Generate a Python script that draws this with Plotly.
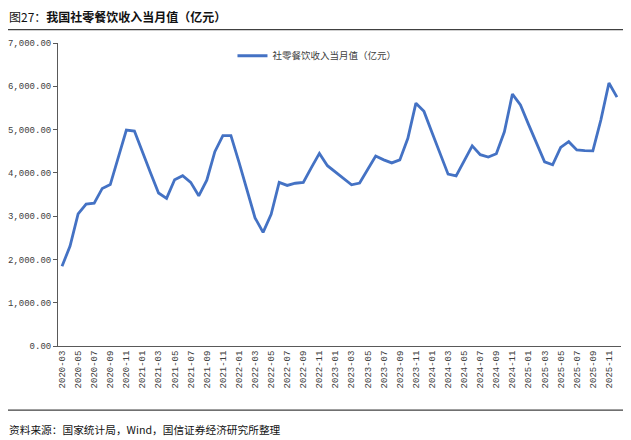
import plotly.graph_objects as go

months = [f"{y}-{m:02d}" for y in range(2020, 2026) for m in range(1, 13)]
months = months[2:]  # 2020-03 .. 2025-12

values = [
    1840, 2310, 3050, 3280, 3300, 3640, 3730, 4390, 4990, 4965,
    4470, 4000, 3535, 3410, 3840, 3935, 3780, 3470, 3830, 4490, 4860, 4860,
    4250, 3620, 2960, 2625, 3040, 3780, 3710, 3760, 3780, 4120, 4450, 4165,
    4020, 3870, 3725, 3765, 4070, 4390, 4300, 4230, 4300, 4800, 5610, 5420,
    4930, 4450, 3970, 3930, 4280, 4625, 4420, 4365, 4440, 4950, 5820, 5570,
    5120, 4690, 4255, 4185, 4590, 4720, 4530, 4515, 4510, 5225, 6075, 5750,
]

tick_labels = months[::2]
y_ticks = [0, 1000, 2000, 3000, 4000, 5000, 6000, 7000]
series_name = "社零餐饮收入当月值（亿元）"

fig = go.Figure()
fig.add_trace(go.Scatter(
    x=months, y=values, mode="lines", name=series_name,
    line=dict(color="#4472C4", width=2.8),
))

cjk = "Noto Sans CJK SC, sans-serif"
mono = "Liberation Mono, DejaVu Sans Mono, monospace"

fig.update_layout(
    width=623, height=432,
    margin=dict(l=50, r=10, t=35, b=94, autoexpand=False),
    paper_bgcolor="white", plot_bgcolor="white",
    font=dict(family=cjk, size=10, color="#404040"),
    showlegend=True,
    legend=dict(
        x=0.46, y=0.958, xanchor="center", yanchor="middle",
        orientation="h", bgcolor="rgba(0,0,0,0)",
        font=dict(size=9.5, color="#404040", family=cjk),
    ),
    xaxis=dict(
        type="category", automargin=False,
        categoryorder="array", categoryarray=months,
        range=[-0.5, len(months) - 0.5],
        tickmode="array", tickvals=tick_labels, ticktext=tick_labels,
        tickangle=-90, tickfont=dict(size=9, color="#404040", family=mono),
        showline=True, linecolor="#595959", linewidth=1,
        showgrid=False, zeroline=False, ticks="",
    ),
    yaxis=dict(
        range=[0, 7000], automargin=False,
        tickmode="array", tickvals=y_ticks,
        ticktext=[f"{v:,.2f}" for v in y_ticks],
        tickfont=dict(size=9, color="#404040", family=mono),
        showline=True, linecolor="#595959", linewidth=1,
        ticks="outside", ticklen=4, tickcolor="#595959",
        showgrid=False, zeroline=False,
    ),
    shapes=[
        dict(type="line", xref="paper", yref="paper",
             x0=-0.0894, x1=1.004, y0=1.044, y1=1.044,
             line=dict(color="#404040", width=1.2)),
        dict(type="line", xref="paper", yref="paper",
             x0=-0.0894, x1=1.004, y0=-0.2114, y1=-0.2114,
             line=dict(color="#404040", width=1.2)),
    ],
    annotations=[
        dict(xref="paper", yref="paper", x=-0.0894, y=1.086, xanchor="left", yanchor="middle",
             text="<span style='font-weight:normal'>图27：</span><b>我国社零餐饮收入当月值（亿元）</b>",
             showarrow=False, borderpad=0, font=dict(size=12, color="#111111", family=cjk)),
        dict(xref="paper", yref="paper", x=-0.0894, y=-0.274, xanchor="left", yanchor="middle",
             text="资料来源：国家统计局，Wind，国信证券经济研究所整理",
             showarrow=False, borderpad=0, font=dict(size=10.7, color="#111111", family=cjk)),
    ],
)

fig.write_html("out.html", config={"displayModeBar": False})
